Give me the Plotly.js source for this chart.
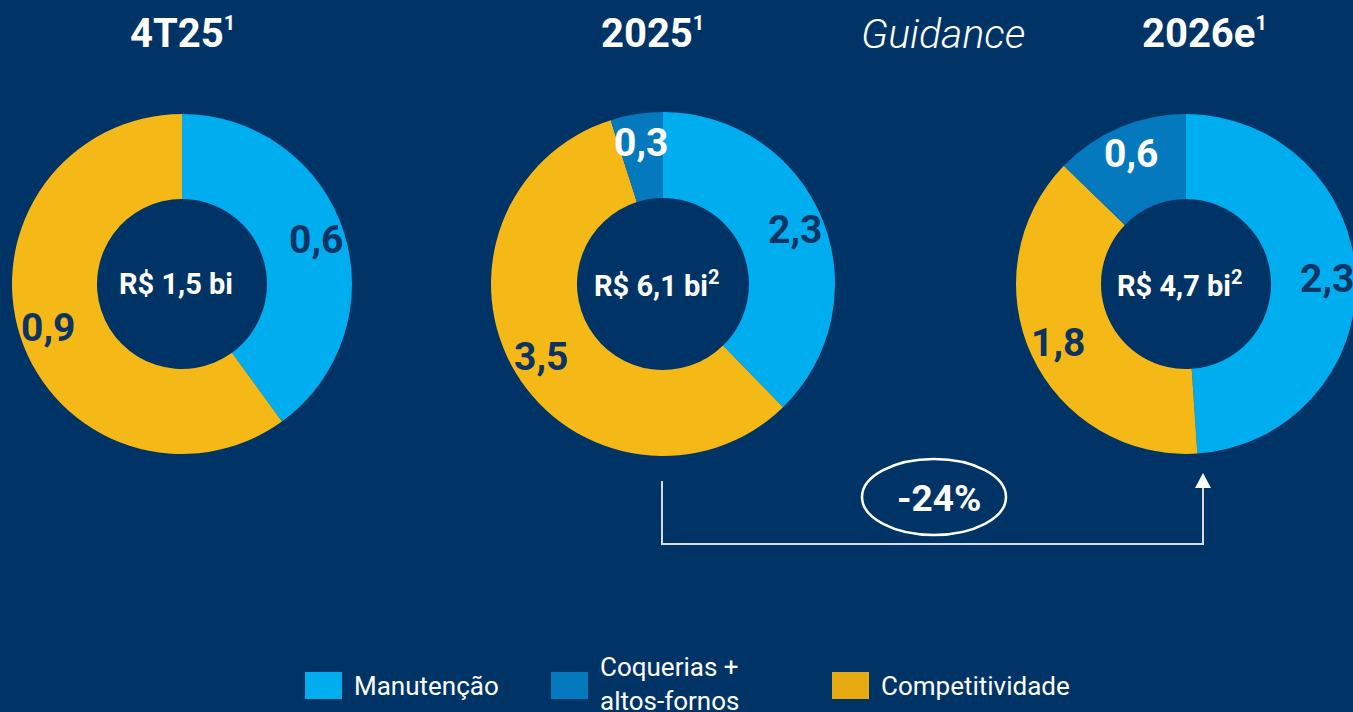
<!DOCTYPE html>
<html><head><meta charset="utf-8">
<script src="https://cdn.plot.ly/plotly-3.0.1.min.js"></script>
<style>html,body{margin:0;padding:0;background:#013466;overflow:hidden;width:1353px;height:712px}#chart{width:1360px;height:712px}</style>
</head><body><div id="chart"></div>
<script>
// ---------------- DATA ----------------
const categories = ['Manutenção', 'Coquerias + altos-fornos', 'Competitividade'];
const legendLabels = ['Manutenção', 'Coquerias +<br>altos-fornos', 'Competitividade'];
const periodTitles = ['4T25', '2025', '2026e'];
const titleNotes = ['1', '1', '1'];
const totalLabels = ['R$ 1,5 bi', 'R$ 6,1 bi', 'R$ 4,7 bi'];
const totalNotes = ['', '2', '2'];
// slices listed clockwise from 12 o'clock
const slices4T25 = ['Manutenção', 'Competitividade'];
const values4T25 = [0.6, 0.9];
const slices2025 = ['Manutenção', 'Competitividade', 'Coquerias + altos-fornos'];
const values2025 = [2.3, 3.5, 0.3];
const slices2026 = ['Manutenção', 'Competitividade', 'Coquerias + altos-fornos'];
const values2026 = [2.3, 1.8, 0.6];
const guidanceLabel = 'Guidance';
const variationLabel = '-24%';

// ---------------- STYLE ----------------
const BG = '#013466';
const DARK = '#0b3363';
const pieColors = {'Manutenção': '#00AEEF', 'Coquerias + altos-fornos': '#0479BE', 'Competitividade': '#F4B916'};
const legendColors = ['#00AEEF', '#0479BE', '#E7AA12'];
const labelColors = {'Manutenção': DARK, 'Coquerias + altos-fornos': '#ffffff', 'Competitividade': DARK};
const FONT = 'Roboto, "DejaVu Sans", sans-serif';
const W = 1360, H = 712;
const px = x => x / W;
const py = y => 1 - y / H;
// pie geometry (pixels): centre and outer radius
const pieGeom = [
  {cx: 182, cy: 284, r: 170},
  {cx: 663, cy: 284, r: 172},
  {cx: 1186, cy: 284, r: 170}
];
const pies = [
  {labels: slices4T25, values: values4T25},
  {labels: slices2025, values: values2025},
  {labels: slices2026, values: values2026}
];

const data = [];
const annotations = [];
const fmt = v => v.toFixed(1).replace('.', ',');
const sup = (t, size) => t ? `<sup><span style="font-size:${size}px">${t}</span></sup>` : '';

pies.forEach((p, i) => {
  const g = pieGeom[i];
  data.push({
    type: 'pie',
    labels: p.labels,
    values: p.values,
    hole: 0.5,
    sort: false,
    direction: 'clockwise',
    rotation: 0,
    textinfo: 'none',
    hoverinfo: 'label+value',
    marker: {colors: p.labels.map(l => pieColors[l]), line: {width: 0}},
    domain: {x: [px(g.cx - g.r), px(g.cx + g.r)], y: [py(g.cy + g.r), py(g.cy - g.r)]},
    showlegend: false
  });
  // value labels at slice mid-angle
  const total = p.values.reduce((a, b) => a + b, 0);
  let cum = 0;
  p.values.forEach((v, j) => {
    const mid = (cum + v / 2) / total * 2 * Math.PI;
    cum += v;
    const rr = 0.83 * g.r;
    annotations.push({
      xref: 'paper', yref: 'paper',
      x: px(g.cx + rr * Math.sin(mid)), y: py(g.cy - rr * Math.cos(mid)),
      text: '<b>' + fmt(v) + '</b>', showarrow: false,
      xanchor: 'center', yanchor: 'middle',
      font: {family: FONT, size: 39, color: labelColors[p.labels[j]]}
    });
  });
  // centre total
  annotations.push({
    xref: 'paper', yref: 'paper', x: px(g.cx - 6), y: py(g.cy),
    text: '<b>' + totalLabels[i] + sup(totalNotes[i], 20) + '</b>', showarrow: false,
    xanchor: 'center', yanchor: 'middle',
    font: {family: FONT, size: 29, color: '#ffffff'}
  });
  // title
  annotations.push({
    xref: 'paper', yref: 'paper', x: px(g.cx + (i === 0 ? 0 : i === 1 ? -11 : 18)), y: py(34),
    text: '<b>' + periodTitles[i] + sup(titleNotes[i], 20) + '</b>', showarrow: false,
    xanchor: 'center', yanchor: 'middle',
    font: {family: FONT, size: 40, color: '#ffffff'}
  });
});

// Guidance label
annotations.push({
  xref: 'paper', yref: 'paper', x: px(943), y: py(34),
  text: guidanceLabel, showarrow: false, xanchor: 'center', yanchor: 'middle',
  font: {family: FONT, size: 41, color: '#ffffff', style: 'italic', weight: 300}
});
// variation label
annotations.push({
  xref: 'paper', yref: 'paper', x: px(939), y: py(498),
  text: '<b>' + variationLabel + '</b>', showarrow: false, xanchor: 'center', yanchor: 'middle',
  font: {family: FONT, size: 37, color: '#ffffff'}
});

// legend (custom, large squares)
const legendX = [305, 551, 832];
const shapes = [];
legendLabels.forEach((t, i) => {
  shapes.push({type: 'rect', xref: 'paper', yref: 'paper',
    x0: px(legendX[i]), x1: px(legendX[i] + 37), y0: py(699), y1: py(672),
    fillcolor: legendColors[i], line: {width: 0}});
  annotations.push({
    xref: 'paper', yref: 'paper', x: px(legendX[i] + 47), y: py(i === 1 ? 684 : 686),
    text: t, showarrow: false, xanchor: 'left', yanchor: 'middle', align: 'left',
    font: {family: FONT, size: 26, color: '#ffffff'}
  });
});

// connector arrow and ellipse
const lineStyle = {color: '#D6DCE6', width: 2};
shapes.push({type: 'line', xref: 'paper', yref: 'paper', x0: px(662), x1: px(662), y0: py(481), y1: py(544), line: lineStyle});
shapes.push({type: 'line', xref: 'paper', yref: 'paper', x0: px(661), x1: px(1204), y0: py(544), y1: py(544), line: lineStyle});
shapes.push({type: 'line', xref: 'paper', yref: 'paper', x0: px(1203), x1: px(1203), y0: py(544), y1: py(487), line: lineStyle});
shapes.push({type: 'path', xref: 'paper', yref: 'paper',
  path: `M ${px(1195)},${py(488)} L ${px(1211)},${py(488)} L ${px(1203)},${py(473)} Z`,
  fillcolor: '#ffffff', line: {width: 0}});
shapes.push({type: 'circle', xref: 'paper', yref: 'paper',
  x0: px(862), x1: px(1006), y0: py(535), y1: py(459),
  line: {color: '#ffffff', width: 2.5}, fillcolor: 'rgba(0,0,0,0)'});

const layout = {
  width: W, height: H,
  margin: {l: 0, r: 0, t: 0, b: 0},
  paper_bgcolor: BG, plot_bgcolor: BG,
  showlegend: false,
  annotations: annotations,
  shapes: shapes,
  font: {family: FONT, color: '#ffffff'}
};
Plotly.newPlot('chart', data, layout, {displayModeBar: false, staticPlot: true});
</script>
</body></html>
